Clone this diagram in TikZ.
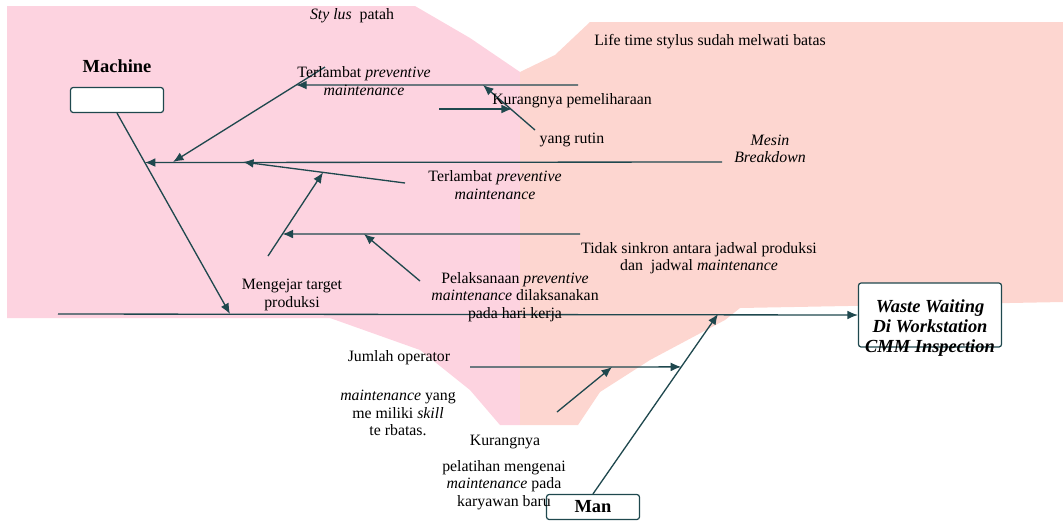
\documentclass[tikz,border=0pt]{standalone}
\usepackage{fontspec}
\setmainfont{Liberation Serif}
\usetikzlibrary{arrows.meta,positioning,calc}
\definecolor{bonecol}{RGB}{31,72,78}
\definecolor{pinkbg}{RGB}{253,211,224}
\definecolor{peachbg}{RGB}{253,214,208}

\begin{document}
\begin{tikzpicture}[x=0.02cm,y=-0.02cm,
  cause/.style={font=\fontsize{9}{10}\selectfont,align=center,inner sep=0pt},
  catbox/.style={rectangle,draw=bonecol,rounded corners=1.5pt,fill=white,line width=0.7pt,
                 minimum width=1.86cm,minimum height=0.5cm,inner sep=0pt,
                 font=\fontsize{10.5}{12}\selectfont\bfseries},
  effbox/.style={rectangle,draw=bonecol,rounded corners=1.5pt,fill=white,line width=0.7pt,
                 minimum width=2.86cm,minimum height=1.28cm},
  bone/.style={-{Latex[length=6pt,width=5pt]},draw=bonecol,line width=0.75pt}
]
\useasboundingbox (0,0) rectangle (1063,522);
% background
\fill[pinkbg] (7,6) -- (415,6) -- (470,38) -- (520,72) -- (520,318) -- (7,318) -- cycle;
\fill[pinkbg] (330,318) -- (520,318) -- (520,425) -- (500,425) -- (470,390) -- (420,350) -- cycle;
\fill[peachbg] (520,72) -- (555,55) -- (590,22) -- (1063,22) -- (1063,302) -- (740,308)
  -- (725,320) -- (650,360) -- (600,392) -- (578,425) -- (520,425) -- cycle;

% heads
\node[catbox] (machine) at (117,100) {};
\node[font=\fontsize{10.5}{12}\selectfont\bfseries,inner sep=0pt,above=0.27cm of machine] (machinelbl) {Machine};
\node[catbox] (man) at (593,507) {Man};
\node[effbox] (effect) at (930,315) {};
\node[font=\fontsize{10.5}{11.5}\selectfont\bfseries\itshape,align=center,inner sep=0pt] (effecttxt) at (930,328)
  {Waste Waiting\\Di Workstation\\CMM Inspection};

% spine and category bones
\coordinate (sp0) at (58,314);
\coordinate (mj) at (230,314);
\coordinate (nj) at (718,314);
\draw[bone] (sp0) -- (effect.west);
\draw[bone] (machine.south) -- (mj);
\draw[bone] (man.north) -- (nj);

% machine causes
\coordinate (m1) at (722,162);
\coordinate (m1tip) at ($(machine.south)!0.246!(mj)$);
\draw[bone] (m1) -- (m1tip);
\coordinate (a0) at (325,67);
\coordinate (a1) at (173,162);
\draw[bone] (a0) -- (a1);
\coordinate (b0) at (578,85);
\coordinate (b1) at ($(a0)!0.19!(a1)$);
\draw[bone] (b0) -- (b1);
\coordinate (c0) at (535,130);
\coordinate (c1) at (483,85);
\draw[bone] (c0) -- (c1);
\coordinate (d0) at (439,109);
\coordinate (d1) at (512,109);
\draw[bone] (d0) -- (d1);
\coordinate (e0) at (405,183);
\coordinate (e1) at (243,162);
\draw[bone] (e0) -- (e1);
\coordinate (f0) at (268,256);
\coordinate (f1) at ($(e0)!0.506!(e1)$);
\draw[bone] (f0) -- (f1);
\coordinate (g0) at (580,234);
\coordinate (g1) at ($(f0)!0.263!(f1)$);
\draw[bone] (g0) -- (g1);
\coordinate (h0) at (420,281);
\coordinate (h1) at (364,234);
\draw[bone] (h0) -- (h1);

% man causes
\coordinate (i0) at (470,367);
\coordinate (i1) at ($(man.north)!0.706!(nj)$);
\draw[bone] (i0) -- (i1);
\coordinate (j0) at (557,412);
\coordinate (j1) at (612,367);
\draw[bone] (j0) -- (j1);

% labels
\node[cause] (stylus) at (352,16) {\textit{Sty lus}\ \ patah};
\node[cause] (lifetime) at (710,42) {Life time stylus sudah melwati batas};
\node[cause] (terlambat1) at (364,81) {Terlambat \textit{preventive}\\\textit{maintenance}};
\node[cause] (kurang1) at (572,101) {Kurangnya pemeliharaan};
\node[cause] (rutin) at (572,140) {yang rutin};
\node[cause] (mesin) at (770,149) {\textit{Mesin}\\\textit{Breakdown}};
\node[cause] (terlambat2) at (495,185) {Terlambat \textit{preventive}\\\textit{maintenance}};
\node[cause] (sinkron) at (699,258) {Tidak sinkron antara jadwal produksi\\dan\ \ jadwal \textit{maintenance}};
\node[cause] (pelaksanaan) at (515,297) {Pelaksanaan \textit{preventive}\\\textit{maintenance} dilaksanakan\\pada hari kerja};
\node[cause] (mengejar) at (292,295) {Mengejar target\\produksi};
\node[cause] (jumlah) at (399,358) {Jumlah operator};
\node[cause] (skill) at (398,413) {\textit{maintenance} yang\\me miliki \textit{skill}\\te rbatas.};
\node[cause] (kurang2) at (505,442) {Kurangnya};
\node[cause] (pelatihan) at (504,485) {pelatihan mengenai\\\textit{maintenance} pada\\karyawan baru};
\end{tikzpicture}
\end{document}
